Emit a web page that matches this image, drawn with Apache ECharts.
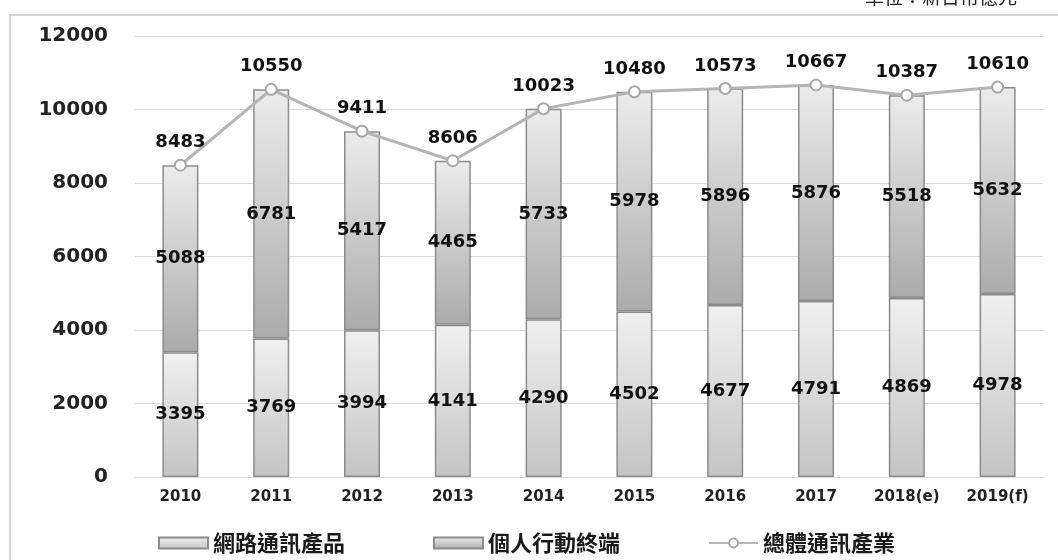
<!DOCTYPE html>
<html>
<head>
<meta charset="utf-8">
<script src="https://cdn.jsdelivr.net/npm/echarts@6/dist/echarts.min.js"></script>
<style>html,body{margin:0;padding:0;background:#fff;}#c{width:1058px;height:560px;}</style>
</head>
<body>
<div id="c"></div>
<script>
const categories = ['2010','2011','2012','2013','2014','2015','2016','2017','2018(e)','2019(f)'];
const networkProducts = [3395, 3769, 3994, 4141, 4290, 4502, 4677, 4791, 4869, 4978];
const mobileDevices = [5088, 6781, 5417, 4465, 5733, 5978, 5896, 5876, 5518, 5632];
const totalIndustry = [8483, 10550, 9411, 8606, 10023, 10480, 10573, 10667, 10387, 10610];
const seriesNames = ['網路通訊產品', '個人行動終端', '總體通訊產業'];
const unitText = '單位：新台幣億元';

const numFont = 'DejaVu Sans';
const cjkFont = 'Noto Sans CJK TC';
const chart = echarts.init(document.getElementById('c'), null, {renderer: 'canvas'});

const grad = (a, b) => new echarts.graphic.LinearGradient(0, 0, 0, 1, [
  {offset: 0, color: a}, {offset: 1, color: b}
]);
const barLabel = {
  show: true, position: 'inside', color: '#111',
  fontFamily: numFont, fontWeight: 'bold', fontSize: 18
};
const legendBase = {
  top: 527, itemWidth: 49, itemHeight: 11,
  textStyle: {fontFamily: cjkFont, fontSize: 22, color: '#1a1a1a', fontWeight: 'bold'}
};

chart.setOption({
  animation: false,
  backgroundColor: '#fff',
  graphic: [
    {type: 'rect', shape: {x: 10, y: 15, width: 1200, height: 700},
     style: {fill: 'none', stroke: '#d6d6d6', lineWidth: 2}, z: -1},
    {type: 'text', right: 41, top: -13,
     style: {text: unitText, font: '19px "Noto Sans CJK TC"', fill: '#222'}}
  ],
  legend: [
    Object.assign({left: 153, data: [{name: seriesNames[0], icon: 'rect'}]}, legendBase),
    Object.assign({left: 428, data: [{name: seriesNames[1], icon: 'rect'}]}, legendBase),
    Object.assign({left: 703, data: [seriesNames[2]]}, legendBase)
  ],
  grid: {left: 135, right: 15, top: 36, bottom: 83, containLabel: false, outerBoundsMode: 'none'},
  xAxis: {
    type: 'category', data: categories,
    axisTick: {show: false},
    axisLine: {lineStyle: {color: '#d9d9d9', width: 1}},
    axisLabel: {margin: 13, color: '#222', fontFamily: numFont, fontWeight: 'bold', fontSize: 15}
  },
  yAxis: {
    type: 'value', min: 0, max: 12000, interval: 2000,
    axisLine: {show: false}, axisTick: {show: false},
    splitLine: {lineStyle: {color: '#d9d9d9', width: 1}},
    axisLabel: {margin: 27, color: '#222', fontFamily: numFont, fontWeight: 'bold', fontSize: 20,
                formatter: v => String(v)}
  },
  series: [
    {
      name: seriesNames[0], type: 'bar', stack: 'total', barWidth: 36,
      data: networkProducts,
      itemStyle: {color: grad('#f0f0f0', '#c4c4c4'), borderColor: '#8c8c8c', borderWidth: 1.5},
      label: barLabel
    },
    {
      name: seriesNames[1], type: 'bar', stack: 'total', barWidth: 36,
      data: mobileDevices,
      itemStyle: {color: grad('#ececec', '#ababab'), borderColor: '#8c8c8c', borderWidth: 1.5},
      label: barLabel
    },
    {
      name: seriesNames[2], type: 'line', data: totalIndustry, z: 5,
      symbol: 'circle', symbolSize: 11,
      lineStyle: {color: '#b5b5b5', width: 3},
      itemStyle: {color: '#ffffff', borderColor: '#a8a8a8', borderWidth: 2},
      label: {show: true, position: 'top', distance: 7, color: '#111',
              fontFamily: numFont, fontWeight: 'bold', fontSize: 18}
    }
  ]
});
</script>
</body>
</html>
